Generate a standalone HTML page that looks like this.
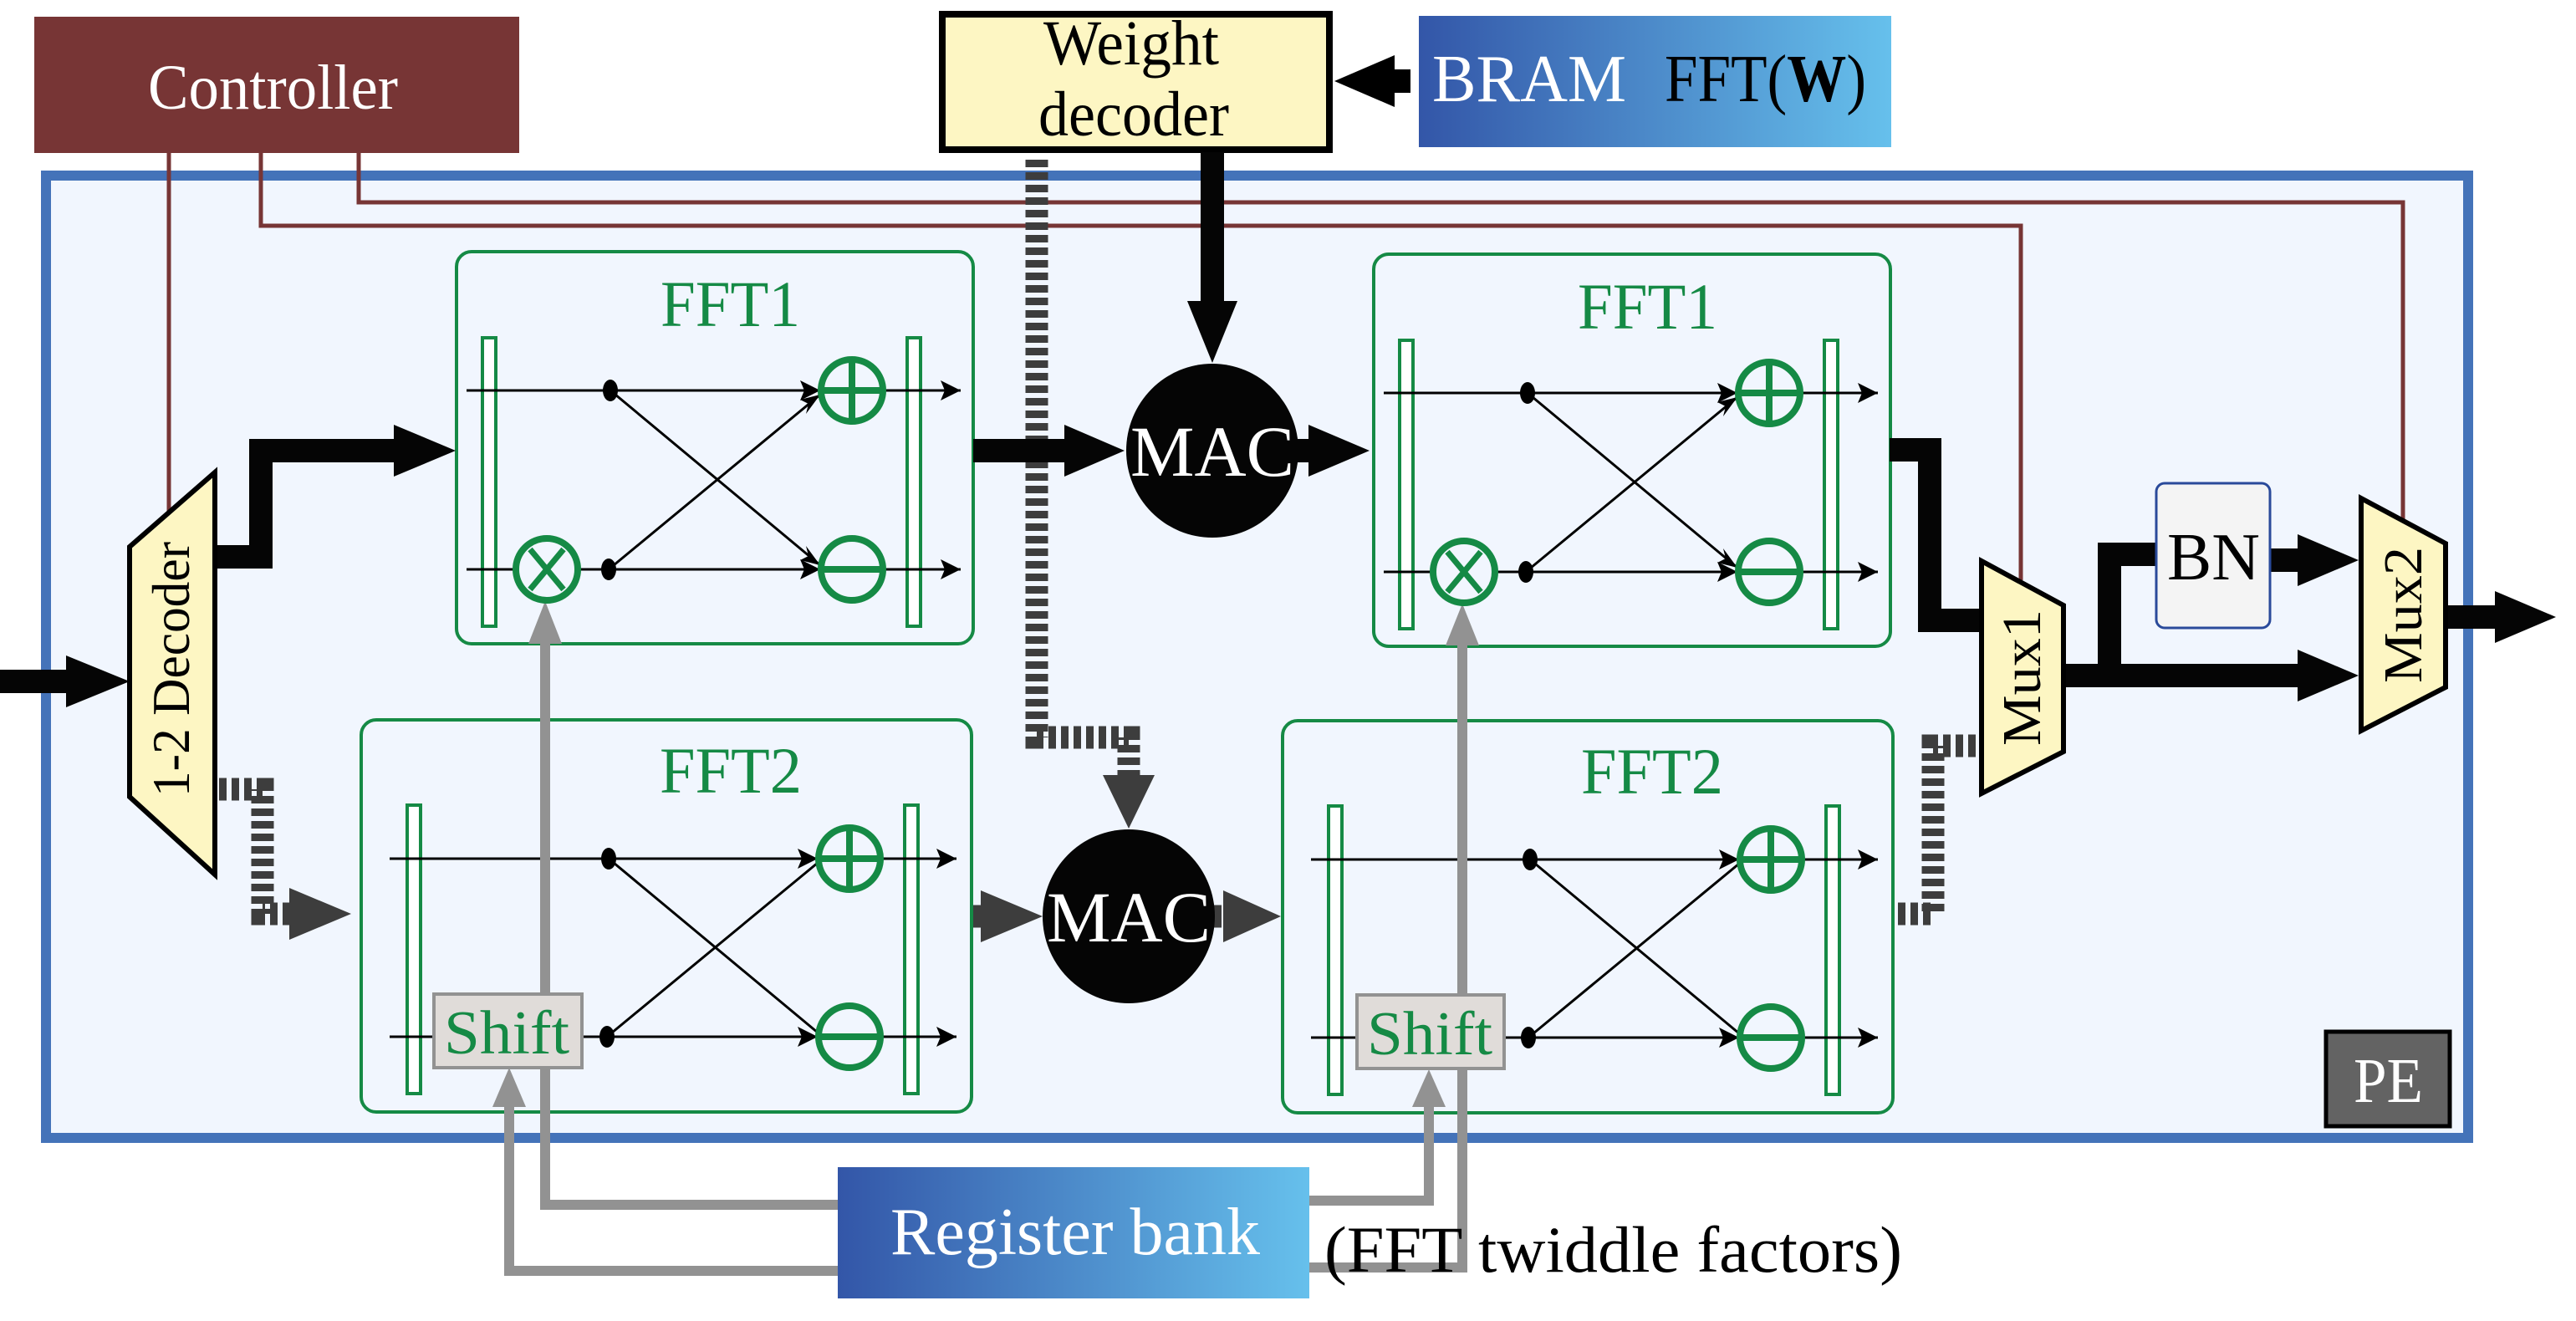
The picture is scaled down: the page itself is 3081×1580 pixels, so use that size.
<!DOCTYPE html>
<html><head><meta charset="utf-8"><style>
html,body{margin:0;padding:0;background:#fff;}
svg{display:block;}
text{font-family:"Liberation Serif","Times New Roman",serif;}
</style></head><body>
<svg width="3081" height="1580" viewBox="0 0 3081 1580" xmlns="http://www.w3.org/2000/svg" font-family="Liberation Serif, serif">
<defs>
<linearGradient id="bg1" x1="0" x2="1" y1="0" y2="0"><stop offset="0" stop-color="#3356a8"/><stop offset="1" stop-color="#66c0ec"/></linearGradient>
<g id="f1">
<rect x="546" y="301" width="618" height="469" rx="18" fill="none" stroke="#158a45" stroke-width="4"/>
<rect x="577" y="404" width="16" height="345" fill="#fff" stroke="#158a45" stroke-width="4"/>
<rect x="1085" y="404" width="16" height="345" fill="#fff" stroke="#158a45" stroke-width="4"/>
<line x1="558" y1="467" x2="1149" y2="467" stroke="#000" stroke-width="3"/>
<line x1="558" y1="681" x2="1149" y2="681" stroke="#000" stroke-width="3"/>
<path d="M1149,467 l-24,-12 l5,12 l-5,12 Z M1149,681 l-24,-12 l5,12 l-5,12 Z" fill="#000"/>
<path d="M730,467 L981,676 M728,681 L981,472" stroke="#000" stroke-width="3" fill="none"/>
<path d="M981,467 l-24,-12 l5,12 l-5,12 Z M981,681 l-24,-12 l5,12 l-5,12 Z" fill="#000"/>
<path d="M981,676 l-24,-6 l10,-5 l-3,-12 Z M981,472 l-24,6 l10,5 l-3,12 Z" fill="#000"/>
<ellipse cx="730" cy="467" rx="9" ry="13" fill="#000"/>
<ellipse cx="728" cy="681" rx="9" ry="13" fill="#000"/>
<circle cx="1019" cy="467" r="37" fill="#f1f6fe" stroke="#158a45" stroke-width="8"/>
<path d="M1019,432 V502 M984,467 H1054" stroke="#158a45" stroke-width="8"/>
<circle cx="1019" cy="681" r="37" fill="#f1f6fe" stroke="#158a45" stroke-width="8"/>
<path d="M984,681 H1054" stroke="#158a45" stroke-width="8"/>
</g>
<g id="f2">
<rect x="432" y="861" width="730" height="469" rx="18" fill="none" stroke="#158a45" stroke-width="4"/>
<rect x="487" y="963" width="16" height="345" fill="#fff" stroke="#158a45" stroke-width="4"/>
<rect x="1082" y="963" width="16" height="345" fill="#fff" stroke="#158a45" stroke-width="4"/>
<line x1="466" y1="1027" x2="1144" y2="1027" stroke="#000" stroke-width="3"/>
<line x1="466" y1="1240" x2="1144" y2="1240" stroke="#000" stroke-width="3"/>
<path d="M1144,1027 l-24,-12 l5,12 l-5,12 Z M1144,1240 l-24,-12 l5,12 l-5,12 Z" fill="#000"/>
<path d="M728,1027 L978,1235 M726,1240 L978,1032" stroke="#000" stroke-width="3" fill="none"/>
<path d="M978,1027 l-24,-12 l5,12 l-5,12 Z M978,1240 l-24,-12 l5,12 l-5,12 Z" fill="#000"/>
<ellipse cx="728" cy="1027" rx="9" ry="13" fill="#000"/>
<ellipse cx="726" cy="1240" rx="9" ry="13" fill="#000"/>
<circle cx="1016" cy="1027" r="37" fill="#f1f6fe" stroke="#158a45" stroke-width="8"/>
<path d="M1016,992 V1062 M981,1027 H1051" stroke="#158a45" stroke-width="8"/>
<circle cx="1016" cy="1240" r="37" fill="#f1f6fe" stroke="#158a45" stroke-width="8"/>
<path d="M981,1240 H1051" stroke="#158a45" stroke-width="8"/>
</g>
</defs>

<rect x="55" y="210" width="2897" height="1151" fill="#f1f6fe" stroke="#4473b9" stroke-width="12"/>

<rect x="41" y="20" width="580" height="163" fill="#773535"/>
<text x="177" y="130" font-size="76" fill="#fff" textLength="299" lengthAdjust="spacingAndGlyphs">Controller</text>
<path d="M202,183 V612 M312,183 V270 H2417 V694 M429,183 V242 H2874 V622" fill="none" stroke="#773535" stroke-width="5"/>

<rect x="1127" y="17" width="463" height="162" fill="#fdf6c3" stroke="#000" stroke-width="8"/>
<text x="1248" y="77" font-size="76" textLength="210" lengthAdjust="spacingAndGlyphs">Weight</text>
<text x="1242" y="162" font-size="76" textLength="228" lengthAdjust="spacingAndGlyphs">decoder</text>

<rect x="1697" y="19" width="565" height="157" fill="url(#bg1)"/>
<text x="1713" y="121" font-size="80" fill="#fff" textLength="232" lengthAdjust="spacingAndGlyphs">BRAM</text>
<text x="1991" y="121" font-size="80" fill="#000" textLength="241" lengthAdjust="spacingAndGlyphs">FFT(<tspan font-weight="bold">W</tspan>)</text>
<path d="M1687,97 H1660" stroke="#000" stroke-width="28"/>
<polygon points="1668,66 1596,97 1668,128" fill="#000"/>

<use href="#f1"/>
<use href="#f1" transform="translate(1097,3)"/>
<use href="#f2"/>
<use href="#f2" transform="translate(1102,1)"/>
<text x="790" y="390" font-size="78" fill="#158a45" textLength="167" lengthAdjust="spacingAndGlyphs">FFT1</text>
<text x="1887" y="393" font-size="78" fill="#158a45" textLength="167" lengthAdjust="spacingAndGlyphs">FFT1</text>
<text x="789" y="948" font-size="78" fill="#158a45" textLength="170" lengthAdjust="spacingAndGlyphs">FFT2</text>
<text x="1891" y="949" font-size="78" fill="#158a45" textLength="170" lengthAdjust="spacingAndGlyphs">FFT2</text>

<g fill="none" stroke="#929292" stroke-width="12">
<path d="M652,760 V1441 H1002"/>
<path d="M609,1318 V1520 H1002"/>
<path d="M1749,762 V1516 H1566"/>
<path d="M1709,1318 V1436 H1566"/>
</g>
<g fill="#929292">
<polygon points="632,770 652,719 672,770"/>
<polygon points="589,1324 609,1277 629,1324"/>
<polygon points="1729,772 1749,722 1769,772"/>
<polygon points="1689,1324 1709,1279 1729,1324"/>
</g>

<circle cx="654" cy="681" r="37" fill="#f1f6fe" stroke="#158a45" stroke-width="8"/>
<path d="M634,657 L674,705 M674,657 L634,705" stroke="#158a45" stroke-width="7"/>
<circle cx="1751" cy="684" r="37" fill="#f1f6fe" stroke="#158a45" stroke-width="8"/>
<path d="M1731,660 L1771,708 M1771,660 L1731,708" stroke="#158a45" stroke-width="7"/>

<rect x="519" y="1189" width="177" height="88" fill="#e0dcd9" stroke="#929292" stroke-width="4"/>
<text x="531" y="1260" font-size="74" fill="#158a45" textLength="150" lengthAdjust="spacingAndGlyphs">Shift</text>
<rect x="1623" y="1190" width="176" height="88" fill="#e0dcd9" stroke="#929292" stroke-width="4"/>
<text x="1635" y="1261" font-size="74" fill="#158a45" textLength="150" lengthAdjust="spacingAndGlyphs">Shift</text>

<rect x="1002" y="1396" width="564" height="157" fill="url(#bg1)"/>
<text x="1065" y="1500" font-size="80" fill="#fff" textLength="442" lengthAdjust="spacingAndGlyphs">Register bank</text>
<text x="1584" y="1521" font-size="78" textLength="691" lengthAdjust="spacingAndGlyphs">(FFT twiddle factors)</text>

<g fill="none" stroke="#3d3d3d" stroke-width="27" stroke-dasharray="9 6">
<path d="M1240,191 V882 H1350 V928"/>
<path d="M262,944 H314 V1093 H348"/>
<path d="M1164,1096 H1176"/>
<path d="M1452,1096 H1465"/>
<path d="M2270,1093 H2312 V892 H2372"/>
</g>
<g fill="#3d3d3d">
<polygon points="1319,927 1381,927 1350,991"/>
<polygon points="346,1062 420,1093 346,1124"/>
<polygon points="1173,1065 1247,1096 1173,1127"/>
<polygon points="1463,1065 1532,1096 1463,1127"/>
</g>

<ellipse cx="1450" cy="539" rx="103" ry="104" fill="#050505"/>
<text x="1352" y="569" font-size="86" fill="#fff" textLength="196" lengthAdjust="spacingAndGlyphs">MAC</text>
<ellipse cx="1350" cy="1096" rx="103" ry="104" fill="#050505"/>
<text x="1252" y="1126" font-size="86" fill="#fff" textLength="196" lengthAdjust="spacingAndGlyphs">MAC</text>

<g fill="none" stroke="#050505" stroke-width="28" stroke-linejoin="miter">
<path d="M0,815 H90"/>
<path d="M257,666 H312 V539 H480"/>
<path d="M1164,539 H1280"/>
<path d="M1548,539 H1572"/>
<path d="M1450,182 V368"/>
<path d="M2260,538 H2308 V742 H2372"/>
<path d="M2468,808 H2760"/>
<path d="M2523,822 V663 H2579"/>
<path d="M2715,670 H2760"/>
<path d="M2925,738 H2990"/>
</g>
<g fill="#050505">
<polygon points="79,784 155,815 79,846"/>
<polygon points="471,508 545,539 471,570"/>
<polygon points="1273,508 1345,539 1273,570"/>
<polygon points="1565,508 1638,539 1565,570"/>
<polygon points="1420,360 1480,360 1450,434"/>
<polygon points="2748,777 2821,808 2748,839"/>
<polygon points="2748,639 2821,670 2748,701"/>
<polygon points="2984,707 3057,738 2984,769"/>
</g>

<polygon points="155,654 257,565 257,1046 155,953" fill="#fdf6c3" stroke="#000" stroke-width="6"/>
<text transform="translate(226,953) rotate(-90)" font-size="64" textLength="305" lengthAdjust="spacingAndGlyphs">1-2 Decoder</text>

<polygon points="2370,671 2468,724 2468,899 2370,949" fill="#fdf6c3" stroke="#000" stroke-width="6"/>
<text transform="translate(2440,892) rotate(-90)" font-size="66" textLength="163" lengthAdjust="spacingAndGlyphs">Mux1</text>
<polygon points="2824,596 2925,650 2925,822 2824,874" fill="#fdf6c3" stroke="#000" stroke-width="6"/>
<text transform="translate(2896,817) rotate(-90)" font-size="66" textLength="163" lengthAdjust="spacingAndGlyphs">Mux2</text>

<rect x="2579" y="578" width="136" height="173" rx="10" fill="#f4f4f4" stroke="#2a4a9a" stroke-width="3"/>
<text x="2592" y="693" font-size="80" textLength="111" lengthAdjust="spacingAndGlyphs">BN</text>

<rect x="2782" y="1234" width="148" height="113" fill="#636363" stroke="#000" stroke-width="5"/>
<text x="2815" y="1318" font-size="76" fill="#fff" textLength="83" lengthAdjust="spacingAndGlyphs">PE</text>
</svg>
</body></html>
